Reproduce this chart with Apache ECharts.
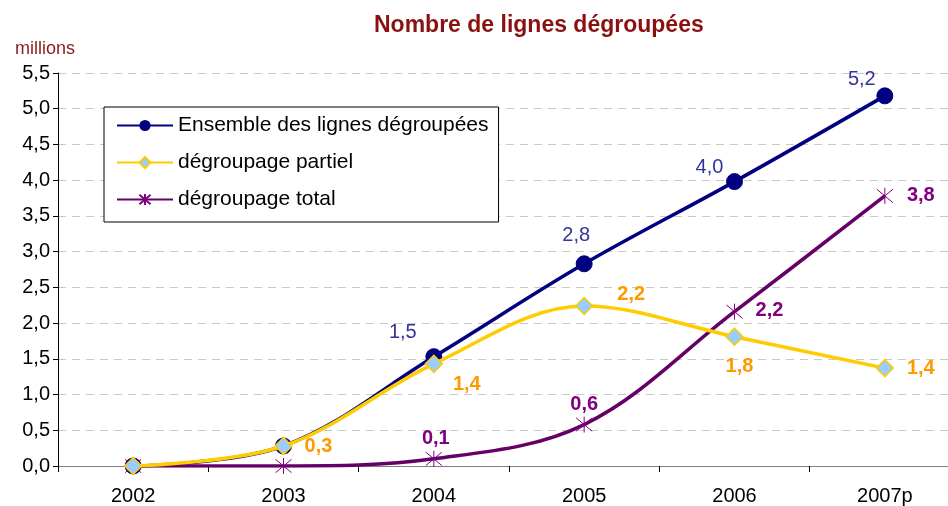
<!DOCTYPE html>
<html>
<head>
<meta charset="utf-8">
<script src="https://cdn.jsdelivr.net/npm/echarts@6/dist/echarts.min.js"></script>
<style>
  html, body { margin: 0; padding: 0; background: #fff; }
  #chart { width: 948px; height: 506px; }
</style>
</head>
<body>
<div id="chart"></div>
<script>
// donnees (millions)
var years = ['2002', '2003', '2004', '2005', '2006', '2007p'];
var ensemble = [0, 0.28, 1.53, 2.83, 3.98, 5.18];
var partiel = [0, 0.28, 1.43, 2.24, 1.81, 1.37];
var total = [0, 0, 0.1, 0.58, 2.16, 3.78];
var yTicks = ['0,0', '0,5', '1,0', '1,5', '2,0', '2,5', '3,0', '3,5', '4,0', '4,5', '5,0', '5,5'];

// position des etiquettes, par serie et par point (null = pas d'etiquette)
var ensembleLabels = [null, null, [-31, -24], [-8, -28], [-25, -14], [-23, -16]];
var partielLabels = [null, [35, 0], [33, 21], [47, -11], [5, 30], [36, 0]];
var totalLabels = [null, null, [2, -20], [0, -20], [35, -1], [36, 0]];

var fmt = function (v) { return v.toFixed(1).replace('.', ','); };

function buildData(values, offsets, style) {
    var out = [];
    for (var i = 0; i < values.length; i++) {
        var item = { value: values[i] };
        if (offsets[i]) {
            item.label = {
                show: true,
                position: 'inside',
                offset: offsets[i],
                formatter: function (p) { return fmt(p.value); },
                color: style.color,
                fontSize: 20,
                fontWeight: style.weight,
                fontFamily: 'Liberation Sans, Arial'
            };
        }
        out.push(item);
    }
    return out;
}

var chart = echarts.init(document.getElementById('chart'));

var option = {
    animation: false,
    backgroundColor: '#fff',
    title: [
        {
            text: 'Nombre de lignes dégroupées',
            left: 369,
            top: 9,
            textStyle: { color: '#8B1010', fontSize: 23, fontWeight: 'bold', fontFamily: 'Liberation Sans, Arial' }
        },
        {
            text: 'millions',
            left: 10,
            top: 35,
            textStyle: { color: '#8B1A1A', fontSize: 18, fontWeight: 'normal', fontFamily: 'Liberation Sans, Arial' }
        }
    ],
    legend: {
        orient: 'vertical',
        left: 104,
        top: 107,
        width: 397,
        padding: [8, 10, 12, 12],
        itemGap: 16,
        itemWidth: 56,
        itemHeight: 14,
        backgroundColor: '#fff',
        borderColor: '#000',
        borderWidth: 1,
        textStyle: { color: '#000', fontSize: 21, fontFamily: 'Liberation Sans, Arial' },
        data: ['Ensemble des lignes dégroupées', 'dégroupage partiel', 'dégroupage total']
    },
    grid: { left: 58, right: -12, top: 73, bottom: 40, outerBoundsMode: 'none' },
    xAxis: {
        type: 'category',
        data: years,
        boundaryGap: true,
        axisLine: { lineStyle: { color: '#808080', width: 1 } },
        axisTick: { show: true, length: 6, lineStyle: { color: '#000' } },
        axisLabel: { color: '#000', fontSize: 20, margin: 20, fontFamily: 'Liberation Sans, Arial' },
        splitLine: { show: false }
    },
    yAxis: {
        type: 'value',
        min: 0,
        max: 5.5,
        interval: 0.5,
        axisLine: { show: true, lineStyle: { color: '#000', width: 1 } },
        axisTick: { show: true, length: 5, lineStyle: { color: '#000' } },
        axisLabel: {
            color: '#000', fontSize: 20, margin: 8, fontFamily: 'Liberation Sans, Arial',
            formatter: function (v) { return yTicks[Math.round(v / 0.5)]; }
        },
        splitLine: { show: true, lineStyle: { color: '#c8c8c8', type: [8, 6], width: 1 } }
    },
    series: [
        {
            name: 'dégroupage total',
            type: 'line',
            smooth: 0.35,
            z: 3,
            data: buildData(total, totalLabels, { color: '#800080', weight: 'bold' }),
            lineStyle: { color: '#660066', width: 3.5 },
            symbol: 'path://M0,0L10,10M10,0L0,10M5,-1L5,11',
            symbolSize: 16,
            itemStyle: { color: 'rgba(0,0,0,0)', borderColor: '#800080', borderWidth: 1 }
        },
        {
            name: 'dégroupage partiel',
            type: 'line',
            smooth: 0.35,
            z: 4,
            data: buildData(partiel, partielLabels, { color: '#FF9900', weight: 'bold' }),
            lineStyle: { color: '#FFCC00', width: 3.5 },
            symbol: 'diamond',
            symbolSize: 17,
            itemStyle: { color: '#99CCFF', borderColor: '#FFCC00', borderWidth: 1.5 }
        },
        {
            name: 'Ensemble des lignes dégroupées',
            type: 'line',
            smooth: 0.35,
            z: 2,
            data: buildData(ensemble, ensembleLabels, { color: '#333399', weight: 'normal' }),
            lineStyle: { color: '#000080', width: 3.5 },
            symbol: 'circle',
            symbolSize: 16,
            itemStyle: { color: '#000080', borderColor: '#000080' }
        }
    ]
};

chart.setOption(option);
</script>
</body>
</html>
